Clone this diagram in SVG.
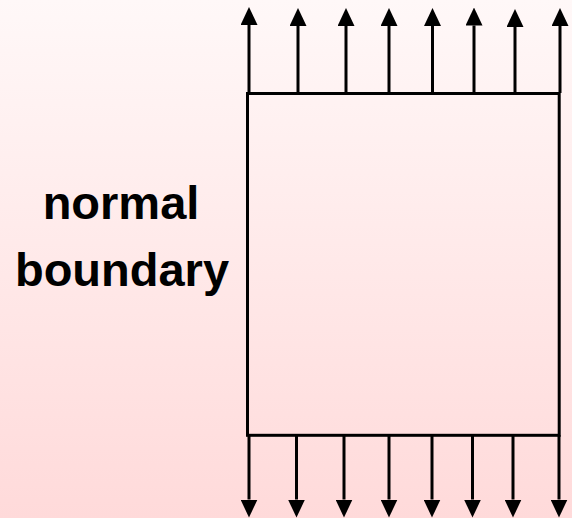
<svg xmlns="http://www.w3.org/2000/svg" width="572" height="518" viewBox="0 0 572 518">
  <defs>
    <linearGradient id="bg" x1="0" y1="0" x2="0" y2="1">
      <stop offset="0" stop-color="#fff8f8"/>
      <stop offset="1" stop-color="#ffdada"/>
    </linearGradient>
    <marker id="ah" markerUnits="userSpaceOnUse" markerWidth="18" markerHeight="17" refX="0" refY="8.5" orient="auto" viewBox="0 0 18 17">
      <path d="M0,0 L18,8.5 L0,17 Z" fill="#000"/>
    </marker>
    <style>
      .lbl { font-family: "Liberation Sans", Arial, sans-serif; font-weight: bold; font-size: 47px; fill: #000; text-anchor: middle; }
      .box { fill: none; stroke: #000; stroke-width: 3; }
      .arr { stroke: #000; stroke-width: 3; fill: none; marker-end: url(#ah); }
    </style>
  </defs>
  <rect x="0" y="0" width="572" height="518" fill="url(#bg)"/>
  <g id="label">
    <text class="lbl" x="121" y="219">normal</text>
    <text class="lbl" x="122" y="286">boundary</text>
  </g>
  <g id="region">
    <rect class="box" x="247.5" y="93.5" width="311.7" height="341.8"/>
  </g>
  <g id="connectors">
    <line class="arr" x1="249" y1="93" x2="249" y2="25"/>
    <line class="arr" x1="298" y1="93" x2="298" y2="26"/>
    <line class="arr" x1="346" y1="93" x2="346" y2="26"/>
    <line class="arr" x1="389" y1="93" x2="389" y2="26"/>
    <line class="arr" x1="432.5" y1="93" x2="432.5" y2="26"/>
    <line class="arr" x1="474" y1="93" x2="474" y2="25.5"/>
    <line class="arr" x1="515" y1="93" x2="515" y2="27"/>
    <line class="arr" x1="560" y1="93" x2="560" y2="26"/>
    <line class="arr" x1="249" y1="435" x2="249" y2="499.5"/>
    <line class="arr" x1="296.5" y1="435" x2="296.5" y2="499.5"/>
    <line class="arr" x1="344" y1="435" x2="344" y2="499.5"/>
    <line class="arr" x1="389" y1="435" x2="389" y2="499.5"/>
    <line class="arr" x1="432" y1="435" x2="432" y2="499.5"/>
    <line class="arr" x1="472.5" y1="435" x2="472.5" y2="499.5"/>
    <line class="arr" x1="513" y1="435" x2="513" y2="499.5"/>
    <line class="arr" x1="559" y1="435" x2="559" y2="499.5"/>
  </g>
</svg>
